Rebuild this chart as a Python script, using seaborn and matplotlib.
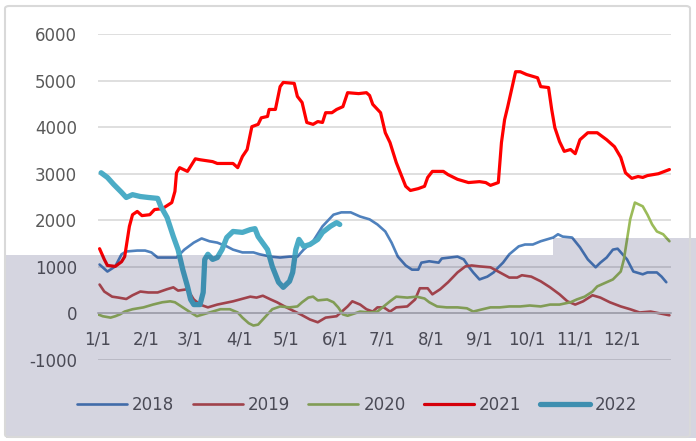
import matplotlib
matplotlib.use("Agg")
import matplotlib.pyplot as plt
import matplotlib.patches as mpatches
import pandas as pd
import seaborn as sns

# %% values (day of year, value)
days_2018 = [1, 6, 11, 15, 18, 25, 30, 34, 38, 44, 50, 55, 61, 66, 71, 76, 82, 86, 92, 99, 103, 110, 116, 122, 127,
             131, 137, 143, 150, 155, 161, 167, 173, 178, 183, 187, 191, 196, 200, 204, 206, 211, 217, 219, 224, 229,
             233, 236, 239, 243, 248, 252, 255, 258, 262, 268, 272, 277, 282, 290, 293, 296, 302, 307, 312, 317, 320,
             324, 328, 331, 337, 341, 347, 350, 356, 359, 362]
vals_2018 = [1050, 900, 1010, 1270, 1330, 1350, 1350, 1310, 1200, 1200, 1200, 1370, 1520, 1610, 1550, 1520, 1440, 1370,
             1310, 1310, 1270, 1220, 1200, 1220, 1220, 1370, 1550, 1870, 2120, 2170, 2170, 2080, 2020, 1910, 1760, 1520,
             1220, 1030, 940, 940, 1090, 1120, 1090, 1180, 1200, 1220, 1160, 1010, 880, 730, 790, 880, 990, 1090, 1270,
             1440, 1480, 1480, 1550, 1630, 1700, 1650, 1630, 1420, 1160, 990, 1090, 1200, 1370, 1390, 1160, 900, 840,
             880, 880, 790, 670]

days_2019 = [1, 4, 9, 13, 18, 22, 27, 32, 38, 44, 48, 51, 57, 61, 65, 70, 76, 86, 97, 101, 105, 110, 114, 120, 129,
             135, 140, 145, 152, 159, 162, 167, 171, 175, 178, 182, 186, 190, 197, 202, 205, 210, 213, 218, 223, 229,
             234, 238, 243, 250, 256, 262, 267, 270, 276, 282, 288, 294, 299, 304, 309, 315, 320, 326, 333, 339, 345,
             352, 358, 364]
vals_2019 = [620, 470, 360, 340, 310, 390, 470, 450, 450, 520, 560, 490, 520, 300, 190, 130, 190, 260, 360, 340, 380,
             300, 240, 130, -20, -130, -190, -90, -60, 150, 260, 190, 90, 40, 130, 130, 40, 130, 150, 300, 540, 540,
             410, 520, 670, 880, 1010, 1030, 1010, 990, 880, 770, 770, 820, 790, 690, 560, 410, 260, 190, 260, 390,
             340, 240, 150, 90, 20, 40, 0, -40]

days_2020 = [0, 3, 8, 11, 14, 17, 22, 29, 35, 41, 46, 49, 54, 59, 63, 67, 71, 78, 84, 89, 92, 96, 99, 102, 105, 108,
             111, 116, 122, 127, 130, 134, 137, 140, 146, 150, 153, 156, 159, 167, 173, 178, 182, 186, 190, 197, 203,
             208, 211, 216, 222, 229, 235, 239, 245, 250, 256, 262, 269, 275, 282, 288, 294, 301, 305, 310, 315, 318,
             324, 328, 333, 335, 337, 339, 342, 347, 350, 353, 356, 360, 364]
vals_2020 = [-20, -60, -90, -60, -20, 40, 90, 130, 190, 240, 260, 240, 130, 20, -60, -20, 20, 90, 90, 20, -90, -210,
             -260, -240, -130, -20, 90, 150, 130, 150, 240, 340, 360, 280, 300, 240, 130, -20, -50, 40, 20, 40, 150,
             260, 360, 340, 360, 320, 240, 150, 130, 130, 110, 40, 90, 130, 130, 150, 150, 170, 150, 190, 190, 240,
             300, 360, 470, 580, 670, 730, 900, 1160, 1590, 2020, 2380, 2300, 2120, 1910, 1760, 1700, 1550]

days_2021 = [1, 4, 6, 11, 15, 17, 20, 22, 25, 28, 33, 36, 41, 47, 49, 50, 52, 57, 62, 65, 73, 76, 86, 89, 92, 95, 98,
             102, 104, 108, 109, 113, 116, 118, 125, 127, 130, 133, 137, 140, 143, 145, 149, 152, 156, 159, 166, 171,
             173, 175, 180, 183, 186, 190, 196, 199, 204, 208, 210, 213, 220, 223, 229, 236, 243, 247, 250, 255, 257,
             259, 261, 263, 266, 269, 273, 280, 282, 287, 289, 291, 294, 297, 301, 304, 307, 312, 318, 324, 329, 333,
             336, 340, 344, 347, 350, 357, 364]
vals_2021 = [1390, 1160, 1030, 1010, 1110, 1220, 1870, 2120, 2190, 2100, 2120, 2230, 2250, 2380, 2620, 3020, 3130,
             3050, 3320, 3300, 3260, 3220, 3220, 3130, 3370, 3520, 4010, 4060, 4200, 4230, 4380, 4380, 4870, 4960,
             4940, 4660, 4530, 4100, 4060, 4120, 4100, 4310, 4310, 4380, 4440, 4740, 4720, 4740, 4680, 4490, 4310,
             3880, 3670, 3240, 2730, 2640, 2680, 2730, 2920, 3050, 3050, 2980, 2880, 2810, 2830, 2810, 2750, 2810,
             3670, 4160, 4440, 4740, 5190, 5190, 5130, 5060, 4870, 4850, 4380, 3990, 3690, 3480, 3520, 3430, 3730,
             3880, 3880, 3730, 3580, 3350, 3020, 2900, 2940, 2920, 2960, 3000, 3090]

days_2022 = [2, 6, 10, 15, 18, 22, 27, 32, 38, 40, 44, 48, 51, 54, 57, 59, 61, 65, 67, 68, 70, 73, 76, 79, 82, 86, 92,
             97, 100, 102, 108, 111, 115, 118, 122, 124, 126, 128, 131, 135, 140, 143, 148, 152, 154]
vals_2022 = [3020, 2920, 2770, 2600, 2490, 2550, 2510, 2490, 2470, 2300, 2060, 1650, 1370, 940, 580, 300, 190, 190,
             450, 1160, 1270, 1160, 1200, 1370, 1630, 1760, 1740, 1800, 1820, 1650, 1370, 1010, 670, 560, 690, 880,
             1370, 1590, 1440, 1480, 1590, 1740, 1870, 1950, 1910]

month_days = [0, 31, 59, 90, 120, 151, 181, 212, 243, 273, 304, 334]
month_labels = ["1/1", "2/1", "3/1", "4/1", "5/1", "6/1", "7/1", "8/1", "9/1", "10/1", "11/1", "12/1"]
y_ticks = [-1000, 0, 1000, 2000, 3000, 4000, 5000, 6000]

series = [
    ("2018", days_2018, vals_2018, "#4F81BD", 1.9),
    ("2019", days_2019, vals_2019, "#C0504D", 1.9),
    ("2020", days_2020, vals_2020, "#9BBB59", 1.9),
    ("2021", days_2021, vals_2021, "#FF0000", 2.3),
    ("2022", days_2022, vals_2022, "#4BACC6", 3.8),
]

# %% plot
sns.set_style("white")
plt.rcParams["font.family"] = ["DejaVu Sans"]
plt.rcParams["axes.unicode_minus"] = False

W, H = 696, 441
fig = plt.figure(figsize=(W / 100, H / 100), dpi=100)
ax = fig.add_axes([98 / W, 1 - 360 / H, (671 - 98) / W, (360 - 34) / H])

for name, d, v, c, lw in series:
    df = pd.DataFrame({"day": d, "value": v})
    sns.lineplot(data=df, x="day", y="value", ax=ax, color=c, linewidth=lw,
                 label=name, estimator=None, sort=False)

ax.set_xlim(0, 365)
ax.set_ylim(-1000, 6000)
ax.set_yticks(y_ticks)
ax.set_yticklabels([str(t) for t in y_ticks])
ax.set_xticks(month_days)
ax.set_xticklabels(month_labels)
ax.set_xlabel("")
ax.set_ylabel("")
ax.grid(axis="y", color="#D9D9D9", linewidth=1.2)
ax.set_axisbelow(True)
for s in ["left", "right", "top"]:
    ax.spines[s].set_visible(False)
ax.spines["bottom"].set_position(("data", 0))
ax.spines["bottom"].set_color("#BFBFBF")
ax.spines["bottom"].set_linewidth(1.2)
ax.tick_params(axis="y", length=0, pad=15, labelsize=12, labelcolor="#595959")
ax.tick_params(axis="x", length=3.5, width=1, color="#BFBFBF", direction="out",
               pad=9, labelsize=12, labelcolor="#595959")

handles, labels = ax.get_legend_handles_labels()
ax.get_legend().remove()
fig.legend(handles, labels, loc="center", bbox_to_anchor=(357 / W, 1 - 405 / H), ncol=5,
           frameon=False, fontsize=12, handlelength=3.0, handletextpad=0.3, columnspacing=1.1,
           labelcolor="#595959")


def px(x, y):
    return (x / W, 1 - y / H)


# grey overlay from the screenshot (darkens whatever lies under it)
overlay = mpatches.Polygon([px(6, 255), px(553, 255), px(553, 238), px(696, 238), px(696, 438), px(6, 438)],
                           closed=True, transform=fig.transFigure, facecolor=(0, 0, 0.27), alpha=0.165,
                           edgecolor="none", zorder=20)
fig.add_artist(overlay)

border = mpatches.FancyBboxPatch(px(5, 437), (690 - 5) / W, (437 - 6) / H, boxstyle="round,pad=0,rounding_size=0.006",
                                 transform=fig.transFigure, facecolor="none", edgecolor="#D9D9D9",
                                 linewidth=1.5, zorder=21)
fig.add_artist(border)

fig.savefig("out.png", dpi=100)
